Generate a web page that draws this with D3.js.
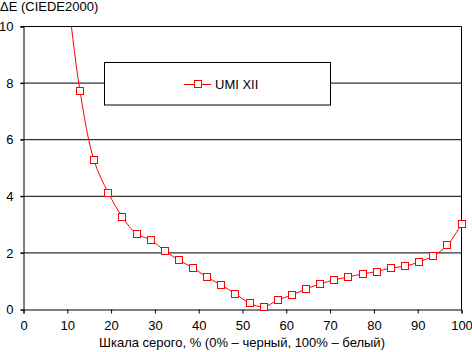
<!DOCTYPE html>
<html>
<head>
<meta charset="utf-8">
<script src="https://cdn.jsdelivr.net/npm/d3@7"></script>
<style>
  body { margin: 0; background: #fff; }
  text { font-family: "Liberation Sans", Arial, sans-serif; font-size: 13px; fill: #000; }
</style>
</head>
<body>
<div id="chart"></div>
<script>
// Grey level, % and measured ΔE values
const greyLevels = [6.5, 9.7, 12.9, 16.1, 19.4, 22.6, 25.8, 29.0, 32.3, 35.5, 38.7, 41.9, 45.2, 48.4,
  51.6, 54.8, 58.1, 61.3, 64.5, 67.7, 71.0, 74.2, 77.4, 80.6, 83.9, 87.1, 90.3, 93.5, 96.8, 100];
const deltaE = [15.5, 11.6, 7.72, 5.27, 4.11, 3.26, 2.67, 2.46, 2.07, 1.74, 1.47, 1.14, 0.86, 0.55,
  0.23, 0.09, 0.34, 0.51, 0.73, 0.90, 1.05, 1.15, 1.26, 1.34, 1.47, 1.53, 1.68, 1.89, 2.28, 3.02];
const xTicks = [0, 10, 20, 30, 40, 50, 60, 70, 80, 90, 100];
const yTicks = [0, 2, 4, 6, 8, 10];
const seriesName = 'UMI XII';

const width = 472, height = 352;
const margin = { left: 23.5, right: 10, top: 26.5, bottom: 43 };

const svg = d3.select('#chart').append('svg')
  .attr('width', width)
  .attr('height', height);

const x = d3.scaleLinear().domain([0, 100]).range([margin.left, 461.5]);
const y = d3.scaleLinear().domain([0, 10]).range([309.5, margin.top]);

// gridlines
svg.append('g')
  .selectAll('line')
  .data(yTicks.filter(d => d > 0))
  .join('line')
  .attr('x1', x(0) - 3).attr('x2', x(100))
  .attr('y1', d => y(d)).attr('y2', d => y(d))
  .attr('stroke', '#000');

// right border
svg.append('line')
  .attr('x1', x(100)).attr('x2', x(100))
  .attr('y1', y(10)).attr('y2', y(0))
  .attr('stroke', '#000');

// axes
const xAxis = svg.append('g')
  .attr('transform', `translate(0,${y(0)})`)
  .call(d3.axisBottom(x).tickValues(xTicks).tickSize(4).tickPadding(7));
const yAxis = svg.append('g')
  .attr('transform', `translate(${x(0)},0)`)
  .call(d3.axisLeft(y).tickValues(yTicks).tickSize(3).tickPadding(7));
[xAxis, yAxis].forEach(a => {
  a.select('.domain').attr('stroke', '#000');
  a.selectAll('.tick line').attr('stroke', '#000');
  a.selectAll('text').attr('font-family', null).attr('font-size', null).attr('fill', '#000');
});

// clip for the series
svg.append('clipPath').attr('id', 'plot-clip')
  .append('rect')
  .attr('x', x(0)).attr('y', y(10))
  .attr('width', x(100) - x(0) + 5).attr('height', y(0) - y(10) + 5);

const points = greyLevels.map((g, i) => [g, deltaE[i]]);

const line = d3.line()
  .x(d => x(d[0]))
  .y(d => y(d[1]))
  .curve(d3.curveCatmullRom.alpha(0.5));

const series = svg.append('g').attr('clip-path', 'url(#plot-clip)');
series.append('path')
  .datum(points)
  .attr('d', line)
  .attr('fill', 'none')
  .attr('stroke', '#ff0000')
  .attr('stroke-width', 1);

series.selectAll('rect')
  .data(points.filter(d => d[1] <= 10))
  .join('rect')
  .attr('x', d => Math.round(x(d[0])) - 3.5)
  .attr('y', d => Math.round(y(d[1])) - 3.5)
  .attr('width', 7).attr('height', 7)
  .attr('fill', '#fff')
  .attr('stroke', '#ff0000');

// legend
const legend = svg.append('g');
legend.append('rect')
  .attr('x', 104.5).attr('y', 62.5)
  .attr('width', 226).attr('height', 42.5)
  .attr('fill', '#fff').attr('stroke', '#000');
legend.append('line')
  .attr('x1', 184).attr('x2', 211).attr('y1', 84.5).attr('y2', 84.5)
  .attr('stroke', '#ff0000');
legend.append('rect')
  .attr('x', 194.5).attr('y', 80.5).attr('width', 7).attr('height', 7)
  .attr('fill', '#fff').attr('stroke', '#ff0000');
legend.append('text')
  .attr('x', 215).attr('y', 89)
  .text(seriesName);

// titles
svg.append('text')
  .attr('x', 0).attr('y', 11)
  .text('ΔE (CIEDE2000)');
svg.append('text')
  .attr('x', 242).attr('y', 347)
  .attr('text-anchor', 'middle')
  .text('Шкала серого, % (0% – черный, 100% – белый)');
</script>
</body>
</html>
